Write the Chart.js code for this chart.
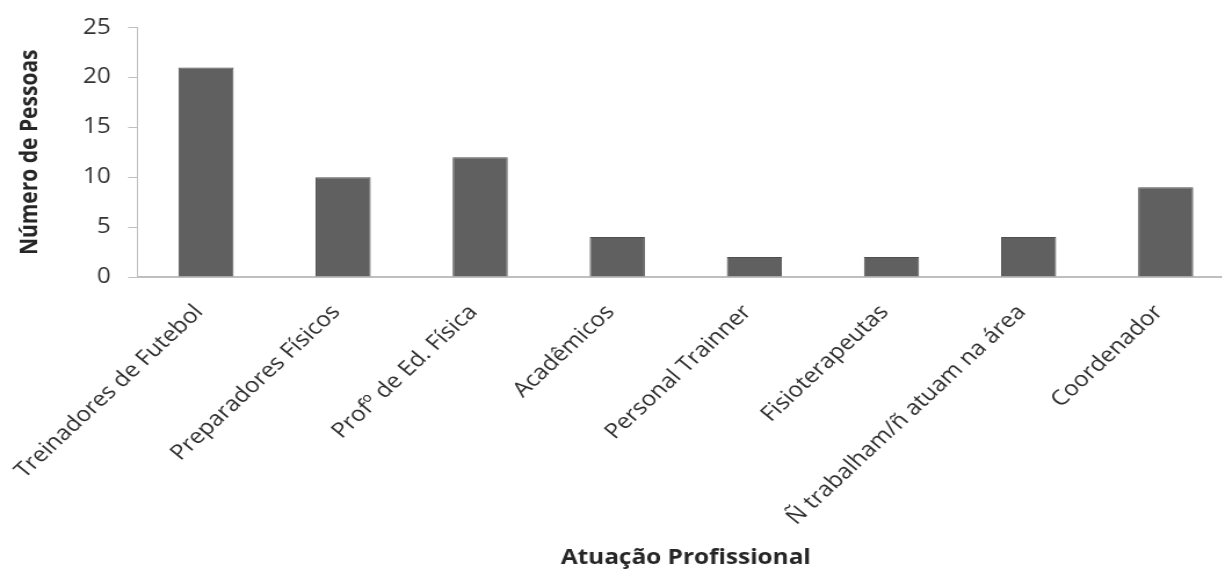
<!DOCTYPE html>
<html lang="pt">
<head>
<meta charset="utf-8">
<title>Atuação Profissional</title>
<script src="https://cdn.jsdelivr.net/npm/chart.js@4/dist/chart.umd.min.js"></script>
<style>
  html, body { margin: 0; padding: 0; background: #ffffff; overflow: hidden; }
  body { width: 1222px; height: 569px; }
  /* the chart is laid out narrower and widened horizontally */
  #wrap { width: 1064px; height: 569px; transform: scaleX(1.16); transform-origin: 0 0; }
  canvas { display: block; }
</style>
</head>
<body>
<div id="wrap"><canvas id="chart" width="1064" height="569"></canvas></div>
<script>
// Categories of professional activity and head counts
const categories = [
  "Treinadores de Futebol",
  "Preparadores Físicos",
  "Profº de Ed. Física",
  "Acadêmicos",
  "Personal Trainner",
  "Fisioterapeutas",
  "Ñ trabalham/ñ atuam na área",
  "Coordenador"
];
const pessoas = [21, 10, 12, 4, 2, 2, 4, 9];
const yTicks = [0, 5, 10, 15, 20, 25];

const yAxisTitle = "Número de Pessoas";
const xAxisTitle = "Atuação Profissional";

const FONT = "'Open Sans', 'DejaVu Sans', sans-serif";
const axisGrey = "#bfbfbf";

new Chart(document.getElementById("chart"), {
  type: "bar",
  data: {
    labels: categories,
    datasets: [{
      data: pessoas,
      backgroundColor: "#606060",
      borderColor: "#4f4f4f",
      borderWidth: 1,
      barPercentage: 0.402,
      categoryPercentage: 1.0
    }]
  },
  options: {
    responsive: false,
    devicePixelRatio: 1,
    animation: false,
    layout: { padding: { top: 26, right: 0, bottom: 0, left: 0 } },
    plugins: { legend: { display: false }, tooltip: { enabled: false } },
    scales: {
      x: {
        grid: { display: false },
        border: { display: true, color: axisGrey, width: 2 },
        ticks: {
          autoSkip: false,
          minRotation: 47,
          maxRotation: 47,
          padding: 15,
          labelOffset: -6,
          color: "#2e2e2e",
          font: { family: FONT, size: 21 }
        },
        title: {
          display: true,
          text: xAxisTitle,
          color: "#262626",
          padding: 0,
          font: { family: FONT, size: 21, weight: "bold", lineHeight: 1 }
        },
        afterFit(scale) {
          scale.height = 569 - 277;
          // rotated labels may run past the plot's left edge
          scale.paddingLeft = 0;
          scale.paddingRight = 0;
        }
      },
      y: {
        min: 0,
        max: 25,
        afterBuildTicks(scale) { scale.ticks = yTicks.map(v => ({ value: v })); },
        grid: {
          display: true,
          drawOnChartArea: false,
          drawTicks: true,
          tickLength: 8,
          color: axisGrey
        },
        border: { display: true, color: axisGrey, width: 1 },
        ticks: {
          padding: 15,
          color: "#333333",
          font: { family: FONT, size: 21 }
        },
        title: {
          display: true,
          text: yAxisTitle,
          color: "#262626",
          padding: { top: 16, bottom: 0 },
          font: { family: FONT, size: 21, weight: "bold", lineHeight: 1 }
        },
        afterFit(scale) { scale.width = 118.5; }
      }
    }
  }
});
</script>
</body>
</html>
